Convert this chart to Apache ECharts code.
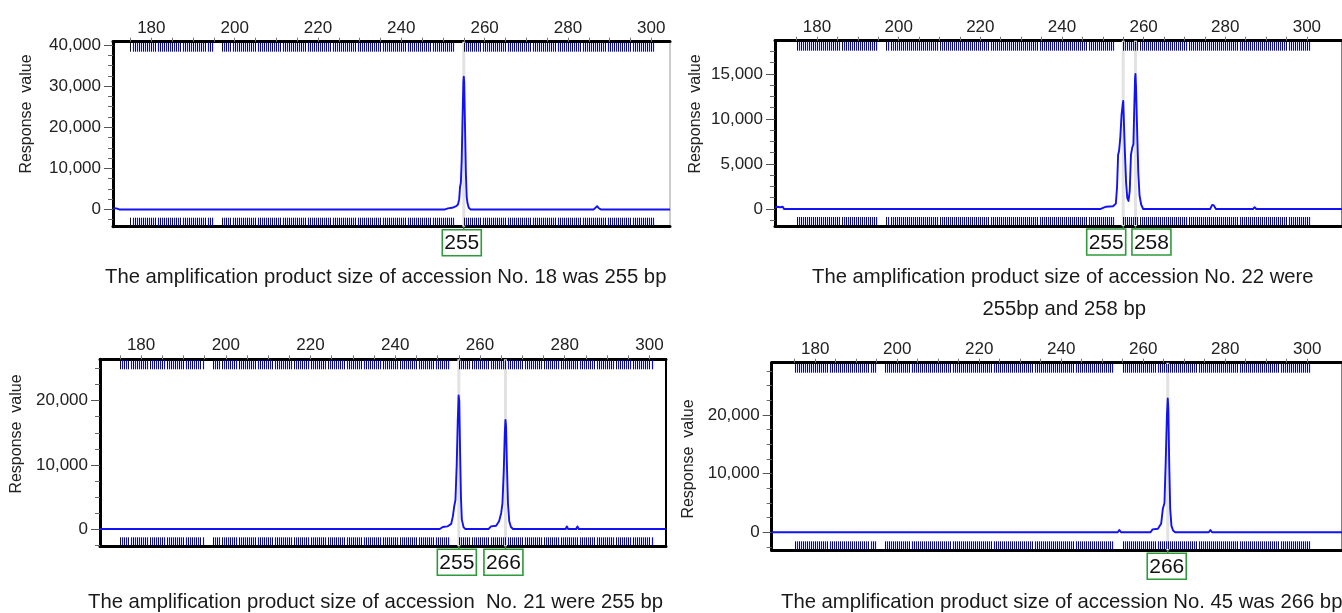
<!DOCTYPE html>
<html>
<head>
<meta charset="utf-8">
<script src="https://cdn.jsdelivr.net/npm/echarts@6/dist/echarts.min.js"></script>
<style>
  html, body { margin: 0; padding: 0; background: #fff; }
  #chart { width: 1342px; height: 613px; }
</style>
</head>
<body>
<div id="chart"></div>
<script>
// ---- fragment size axis (bp) ----
const bpLabels = [180, 200, 220, 240, 260, 280, 300];
const bpTicks = [175, 180, 185, 190, 195, 200, 205, 210, 215, 220, 225, 230, 235, 240, 245,
  250, 255, 260, 265, 270, 275, 280, 285, 290, 295, 300];

// ---- allele bins of the marker panel (bp) ----
const binSizes = [175, 176, 177, 178, 179, 180, 181, 182, 183, 184, 185, 186, 187, 188, 189, 190,
  191, 192, 193, 194, 197, 198, 199, 200, 201, 202, 203, 204, 205, 206, 207, 208, 209, 210, 211,
  212, 213, 214, 215, 216, 217, 218, 219, 220, 221, 222, 223, 224, 225, 226, 227, 228, 229, 230,
  231, 232, 233, 234, 235, 236, 237, 238, 239, 240, 241, 242, 243, 244, 245, 246, 247, 248, 249,
  250, 251, 252, 255, 256, 257, 258, 259, 260, 261, 262, 263, 264, 265, 266, 267, 268, 269, 270,
  271, 272, 273, 274, 275, 276, 277, 278, 279, 280, 281, 282, 283, 284, 285, 286, 287, 288, 289,
  290, 291, 292, 293, 294, 295, 296, 297, 298, 299, 300];

// ---- response axis ticks ----
const rfuLabels18 = [0, 10000, 20000, 30000, 40000];
const rfuMinor18 = [-2500, 2500, 5000, 7500, 12500, 15000, 17500, 22500, 25000, 27500, 32500, 35000, 37500];
const rfuLabels22 = [0, 5000, 10000, 15000];
const rfuMinor22 = [-1250, 1250, 2500, 3750, 6250, 7500, 8750, 11250, 12500, 13750, 16250, 17500];
const rfuLabels21 = [0, 10000, 20000];
const rfuMinor21 = [-2500, 2500, 5000, 7500, 12500, 15000, 17500, 22500, 25000];
const rfuLabels45 = [0, 10000, 20000];
const rfuMinor45 = [-2500, 2500, 5000, 7500, 12500, 15000, 17500, 22500, 25000, 27500];

// ---- electropherogram traces: [size bp, response] ----
const trace18 = [[170.8, 150], [171.2, 300], [171.8, 200], [172.3, 0], [250.5, 0], [251.2, 250],
  [252.2, 400], [253.2, 800], [253.6, 1200], [253.9, 2500], [254.1, 5500], [254.3, 6500],
  [254.5, 12000], [254.7, 22000], [254.9, 31000], [255.0, 32300], [255.1, 31000], [255.3, 20000],
  [255.5, 9000], [255.7, 3000], [255.9, 1500], [256.2, 400], [256.6, 0], [286.2, 0], [286.7, 500],
  [287.0, 800], [287.4, 300], [287.9, 0], [304.5, 0]];

const trace22 = [[169.7, 150], [170.2, 250], [171.0, 200], [171.6, 250], [171.9, 0], [249.5, 0],
  [250.8, 250], [252.5, 300], [253.2, 600], [253.5, 2500], [253.75, 6000], [254.0, 6500],
  [254.3, 8000], [254.6, 10500], [254.85, 11500], [255.0, 12000], [255.15, 10000], [255.4, 6500],
  [255.7, 3000], [256.0, 1200], [256.3, 900], [256.6, 2000], [256.9, 6000], [257.2, 6800],
  [257.5, 7200], [257.7, 11000], [257.9, 14500], [258.0, 15000], [258.15, 13500], [258.4, 9000],
  [258.7, 4000], [259.0, 1500], [259.4, 500], [259.9, 0], [276.3, 0], [276.8, 450], [277.2, 400],
  [277.7, 0], [286.8, 0], [287.2, 200], [287.6, 0], [308.6, 0]];

const trace21 = [[170.3, 0], [250.5, 0], [251.2, 300], [252.3, 400], [253.2, 800], [253.6, 2000],
  [253.9, 3500], [254.2, 4500], [254.5, 10000], [254.75, 17000], [254.95, 20800], [255.1, 20000],
  [255.3, 12000], [255.5, 5000], [255.7, 1500], [256.1, 300], [256.5, 0], [262.0, 0], [262.6, 400],
  [263.8, 500], [264.5, 1200], [265.0, 2500], [265.3, 4000], [265.6, 9000], [265.85, 15000],
  [266.0, 17000], [266.15, 16000], [266.35, 10000], [266.6, 4000], [266.9, 1200], [267.3, 300],
  [267.8, 0], [280.2, 0], [280.5, 400], [280.8, 0], [282.7, 0], [283.0, 400], [283.3, 0], [303.9, 0]];

const trace45 = [[169.4, 0], [253.8, 0], [254.2, 400], [254.6, 0], [261.8, 0], [262.3, 500],
  [263.6, 600], [264.4, 1500], [264.8, 4000], [265.2, 5000], [265.5, 12000], [265.8, 20000],
  [266.0, 22800], [266.15, 21000], [266.35, 12000], [266.6, 4000], [266.9, 1100], [267.3, 300],
  [267.8, 0], [276.0, 0], [276.4, 400], [276.8, 0], [308.5, 0]];

// ---- called allele sizes (bp) ----
const calls18 = [255];
const calls22 = [255, 258];
const calls21 = [255, 266];
const calls45 = [266];

// ---- captions ----
const captions = [
  'The amplification product size of accession No. 18 was 255 bp',
  'The amplification product size of accession No. 22 were',
  '255bp and 258 bp',
  'The amplification product size of accession  No. 21 were 255 bp',
  'The amplification product size of accession No. 45 was 266 bp'
];
const axisTitle = 'Response  value';

// ---- panel layout ----
const FONT = "'Liberation Sans', Arial, sans-serif";
const panels = [
  { trace: trace18, calls: calls18, labels: rfuLabels18, minor: rfuMinor18, shift: [-2],
    left: 113, top: 41.7, width: 557, height: 185, xMin: 170.8, xMax: 304.5, yMin: -4200, yMax: 40800,
    border: { color: '#999', width: 1 } },
  { trace: trace22, calls: calls22, labels: rfuLabels22, minor: rfuMinor22, shift: [-17, 16],
    left: 775, top: 40.7, width: 587, height: 185.3, xMin: 169.7, xMax: 308.6, yMin: -1890, yMax: 18700,
    border: { color: '#000', width: 1 } },
  { trace: trace21, calls: calls21, labels: rfuLabels21, minor: rfuMinor21, shift: [-2, -2],
    left: 100, top: 359.3, width: 566, height: 187, xMin: 170.3, xMax: 303.9, yMin: -2700, yMax: 26450,
    border: { color: '#000', width: 2 } },
  { trace: trace45, calls: calls45, labels: rfuLabels45, minor: rfuMinor45, shift: [-1],
    left: 771.7, top: 362.7, width: 590.3, height: 187.6, xMin: 169.4, xMax: 308.5, yMin: -3070, yMax: 28900,
    border: { color: '#000', width: 1 } }
];

const fmt = v => String(v).replace(/\B(?=(\d{3})+(?!\d))/g, ',');

const grid = [], xAxis = [], yAxis = [], series = [];

panels.forEach((p, i) => {
  grid.push({
    left: p.left, top: p.top, width: p.width, height: p.height,
    show: true, borderColor: p.border.color, borderWidth: p.border.width,
    backgroundColor: 'transparent'
  });
  // size axis on top with labels
  xAxis.push({
    type: 'value', gridIndex: i, position: 'top', min: p.xMin, max: p.xMax,
    axisLine: { show: true, onZero: false, lineStyle: { color: '#000', width: 3 } },
    axisTick: { show: true, customValues: bpTicks, length: 4, lineStyle: { color: '#777', width: 1 } },
    axisLabel: { customValues: bpLabels, fontSize: 17, fontFamily: FONT, color: '#222', margin: 5 },
    splitLine: { show: false }
  });
  // bottom frame line
  xAxis.push({
    type: 'value', gridIndex: i, position: 'bottom', min: p.xMin, max: p.xMax,
    axisLine: { show: true, onZero: false, lineStyle: { color: '#000', width: 3 } },
    axisTick: { show: false }, axisLabel: { show: false }, splitLine: { show: false }
  });
  // response axis
  yAxis.push({
    type: 'value', gridIndex: i, position: 'left', min: p.yMin, max: p.yMax,
    axisLine: { show: true, onZero: false, lineStyle: { color: '#000', width: 3 } },
    axisTick: { show: true, customValues: p.labels, length: 9, lineStyle: { color: '#555', width: 1 } },
    axisLabel: { customValues: p.labels, formatter: fmt, fontSize: 17, fontFamily: FONT, color: '#222', margin: 12 },
    splitLine: { show: false }
  });
  // minor ticks of the response axis
  yAxis.push({
    type: 'value', gridIndex: i, position: 'left', min: p.yMin, max: p.yMax,
    axisLine: { show: false, onZero: false },
    axisTick: { show: true, customValues: p.minor, length: 5, lineStyle: { color: '#666', width: 1 } },
    axisLabel: { show: false }, splitLine: { show: false }
  });

  const xi = i * 2, yi = i * 2;

  // grey band behind each called peak
  series.push({
    type: 'custom', xAxisIndex: xi, yAxisIndex: yi, z: 1, silent: true,
    data: p.calls.map(c => [c, 0]),
    renderItem: (params, api) => {
      const cs = params.coordSys;
      const x = api.coord([api.value(0), 0])[0];
      return { type: 'rect', shape: { x: x - 1.5, y: cs.y, width: 3, height: cs.height },
        style: { fill: '#e2e2e2' } };
    }
  });

  // bin ladder along the top and bottom of the plot
  series.push({
    type: 'custom', xAxisIndex: xi, yAxisIndex: yi, z: 4, silent: true,
    data: binSizes.map(b => [b, 0]),
    renderItem: (params, api) => {
      const cs = params.coordSys;
      const b = api.value(0);
      const x1 = Math.round(api.coord([b, 0])[0]) + 0.5;
      const x2 = Math.round(api.coord([b + 0.5, 0])[0]) + 0.5;
      const t0 = cs.y + 1, t1 = cs.y + 10;
      const b0 = cs.y + cs.height - 9, b1 = cs.y + cs.height - 1;
      const black = { stroke: '#111', lineWidth: 1 };
      const blue = { stroke: '#0a0aee', lineWidth: 1.2 };
      return { type: 'group', children: [
        { type: 'line', shape: { x1: x1, y1: t0, x2: x1, y2: t1 }, style: black },
        { type: 'line', shape: { x1: x2, y1: t0, x2: x2, y2: t1 }, style: blue },
        { type: 'line', shape: { x1: x1, y1: b0, x2: x1, y2: b1 }, style: black },
        { type: 'line', shape: { x1: x2, y1: b0, x2: x2, y2: b1 }, style: blue }
      ] };
    }
  });

  // trace, drawn as one polyline through every sample
  series.push({
    type: 'custom', xAxisIndex: xi, yAxisIndex: yi, z: 3, silent: true, clip: true,
    data: p.trace,
    renderItem: (params, api) => {
      if (params.dataIndexInside !== 0) return null;
      const pts = [];
      for (let j = 0; j < params.dataInsideLength; j++) {
        pts.push(api.coord([api.value(0, j), api.value(1, j)]));
      }
      return { type: 'polyline', shape: { points: pts },
        style: { stroke: '#1212f5', lineWidth: 1.9, fill: null, lineJoin: 'round' } };
    }
  });

  // allele call labels under the plot
  series.push({
    type: 'custom', xAxisIndex: xi, yAxisIndex: yi, z: 5, silent: true, clip: false,
    data: p.calls.map(c => [c, 0]),
    renderItem: (params, api) => {
      const cs = params.coordSys;
      const x = api.coord([api.value(0), 0])[0];
      const cx = x + (p.shift[params.dataIndex] || 0);
      const yb = cs.y + cs.height;
      const w = 39, h = 26, gap = 3;
      return { type: 'group', children: [
        { type: 'line', shape: { x1: x, y1: yb, x2: x, y2: yb + gap }, style: { stroke: '#2e9a3a', lineWidth: 1.5 } },
        { type: 'rect', shape: { x: cx - w / 2, y: yb + gap, width: w, height: h },
          style: { fill: '#fff', stroke: '#2e9a3a', lineWidth: 1.6 } },
        { type: 'text', x: cx, y: yb + gap + h / 2 + 1,
          style: { text: String(api.value(0)), fontSize: 21, fontFamily: FONT, fill: '#111',
            align: 'center', verticalAlign: 'middle' } }
      ] };
    }
  });
});

const capStyle = { fontSize: 20.3, fontFamily: FONT, fill: '#1a1a1a', align: 'left', verticalAlign: 'middle' };
const nameStyle = { fontSize: 16, fontFamily: FONT, fill: '#222', align: 'center', verticalAlign: 'middle' };

const graphic = [
  { type: 'text', x: 105, y: 277, style: Object.assign({ text: captions[0] }, capStyle) },
  { type: 'text', x: 812, y: 277, style: Object.assign({ text: captions[1] }, capStyle) },
  { type: 'text', x: 982.5, y: 309, style: Object.assign({ text: captions[2] }, capStyle) },
  { type: 'text', x: 88, y: 602, style: Object.assign({ text: captions[3] }, capStyle) },
  { type: 'text', x: 781, y: 602, style: Object.assign({ text: captions[4] }, capStyle) },
  { type: 'text', x: 27, y: 114, rotation: Math.PI / 2, style: Object.assign({ text: axisTitle }, nameStyle) },
  { type: 'text', x: 696, y: 114, rotation: Math.PI / 2, style: Object.assign({ text: axisTitle }, nameStyle) },
  { type: 'text', x: 17, y: 434, rotation: Math.PI / 2, style: Object.assign({ text: axisTitle }, nameStyle) },
  { type: 'text', x: 689, y: 459, rotation: Math.PI / 2, style: Object.assign({ text: axisTitle }, nameStyle) }
];

const chart = echarts.init(document.getElementById('chart'), null, { renderer: 'canvas' });
chart.setOption({
  animation: false,
  backgroundColor: '#fff',
  grid, xAxis, yAxis, series, graphic
});
</script>
</body>
</html>
